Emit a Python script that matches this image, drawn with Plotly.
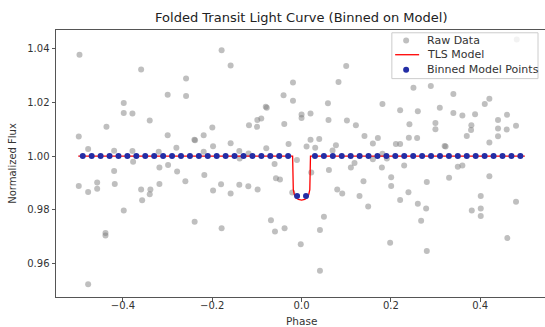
import plotly.graph_objects as go

# ---- data ----
raw_phase = [
    -0.4973, -0.3593, -0.2998, -0.3982, -0.3982, -0.3787, -0.3400, -0.4369, -0.4989, -0.2998,
    -0.4779, -0.4197, -0.3787, -0.3199, -0.2803, -0.1790, -0.1588, -0.2586, -0.2586, -0.0403,
    -0.0192, -0.0801, -0.0779, -0.0902, -0.0991, -0.1177, -0.0998, -0.0387, -0.1998, -0.2192,
    -0.2400, -0.2385, -0.1588, -0.1982, -0.0291, -0.2192, -0.1394, -0.1186, -0.0790, 0.0000,
    0.0000, 0.1000, -0.0192, 0.0828, 0.2506, 0.0591, 0.1812, 0.0201, 0.2208, 0.2604,
    0.0604, 0.1016, 0.1217, 0.2416, 0.1409, 0.1709, 0.2403, 0.0112, 0.0201, 0.0396,
    0.0770, 0.0694, 0.0306, 0.1597, 0.2112, 0.2208, 0.1812, 0.4819, 0.2895, 0.3400,
    0.4206, 0.4103, 0.3096, 0.3400, 0.3602, 0.3886, 0.4602, 0.4400, 0.2998, 0.3803,
    0.4400, 0.4803, 0.2998, 0.4595, 0.3796, 0.3700, 0.4400, 0.2588, 0.3204, 0.3226,
    0.4206, -0.3772, -0.4197, -0.3183, -0.2989, -0.2787, -0.4989, -0.4779, -0.4577, -0.4577,
    -0.4183, -0.3593, -0.3385, -0.3400, -0.3570, -0.3183, -0.3982, -0.4391, -0.4391, -0.4779,
    -0.1387, -0.2177, -0.2602, -0.1803, -0.1982, -0.1588, -0.1394, -0.1192, -0.0984, -0.0604,
    -0.0573, -0.0483, -0.0208, -0.0103, -0.2394, -0.1790, -0.0685, -0.0595, -0.0380, -0.0018,
    0.0217, 0.0613, 0.1105, 0.1186, 0.1597, 0.1799, 0.1911, 0.2298, 0.2007, 0.2007,
    0.1387, 0.0799, 0.0911, 0.1298, 0.2394, 0.2208, 0.2604, 0.1492, 0.0501, 0.0412,
    0.1984, 0.0412, 0.2678, 0.3499, 0.3602, 0.2805, 0.3304, 0.4206, 0.2790, 0.4013,
    0.3812, 0.4013, 0.4013, 0.4803, 0.4609, 0.2805,
]
raw_flux = [
    1.0378, 1.0323, 1.0229, 1.0198, 1.0161, 1.0159, 1.0133, 1.0109, 1.0073, 1.0078,
    1.0026, 1.0020, 1.0019, 1.0016, 1.0031, 1.0395, 1.0338, 1.0289, 1.0224, 1.0227,
    1.0206, 1.0184, 1.0180, 1.0140, 1.0135, 1.0115, 1.0109, 1.0120, 1.0107, 1.0078,
    1.0061, 1.0059, 1.0048, 1.0037, 1.0045, 1.0016, 1.0019, 1.0010, 1.0029, 1.0155,
    1.0142, 1.0336, 1.0274, 1.0276, 1.0255, 1.0197, 1.0194, 1.0159, 1.0171, 1.0167,
    1.0135, 1.0133, 1.0115, 1.0119, 1.0075, 1.0067, 1.0068, 1.0036, 1.0061, 1.0064,
    1.0040, 1.0021, 1.0031, 1.0047, 1.0045, 1.0045, 1.0009, 1.0435, 1.0261, 1.0232,
    1.0214, 1.0194, 1.0180, 1.0161, 1.0151, 1.0156, 1.0154, 1.0135, 1.0123, 1.0115,
    1.0103, 1.0113, 1.0100, 1.0099, 1.0097, 1.0075, 1.0074, 1.0067, 1.0038, 1.0036,
    1.0051, 0.9979, 0.9944, 0.9957, 0.9967, 0.9942, 0.9888, 0.9866, 0.9901, 0.9878,
    0.9896, 0.9875, 0.9875, 0.9858, 0.9835, 0.9896, 0.9797, 0.9713, 0.9704, 0.9522,
    0.9991, 0.9929, 0.9906, 0.9895, 0.9872, 0.9860, 0.9893, 0.9887, 0.9875, 0.9970,
    0.9917, 0.9913, 0.9864, 0.9985, 0.9755, 0.9731, 0.9761, 0.9719, 0.9731, 0.9671,
    0.9939, 0.9948, 0.9957, 0.9974, 0.9988, 0.9957, 0.9991, 0.9965, 0.9921, 0.9888,
    0.9906, 0.9875, 0.9860, 0.9851, 0.9865, 0.9836, 0.9822, 0.9812, 0.9774, 0.9724,
    0.9677, 0.9572, 0.9759, 0.9960, 0.9965, 0.9903, 0.9919, 0.9925, 0.9804, 0.9851,
    0.9797, 0.9804, 0.9776, 0.9830, 0.9694, 0.9646,
]

model_phase = [-0.50, -0.020, -0.0185, -0.016, -0.012, -0.007, 0.0, 0.007, 0.012, 0.016, 0.0185, 0.020, 0.50]
model_flux = [1.000, 1.000, 0.9875, 0.9856, 0.9843, 0.9838, 0.9836, 0.9838, 0.9843, 0.9856, 0.9875, 1.000, 1.000]

bin_phase = [
    -0.49, -0.47, -0.45, -0.43, -0.41, -0.39, -0.37, -0.35, -0.33, -0.31,
    -0.29, -0.27, -0.25, -0.23, -0.21, -0.19, -0.17, -0.15, -0.13, -0.11,
    -0.09, -0.07, -0.05, -0.03, -0.01, 0.01, 0.03, 0.05, 0.07, 0.09,
    0.11, 0.13, 0.15, 0.17, 0.19, 0.21, 0.23, 0.25, 0.27, 0.29,
    0.31, 0.33, 0.35, 0.37, 0.39, 0.41, 0.43, 0.45, 0.47, 0.49,
]
bin_flux = [1.0] * 24 + [0.9851, 0.9851] + [1.0] * 24

x_ticks = [-0.4, -0.2, 0.0, 0.2, 0.4]
x_labels = ["\u22120.4", "\u22120.2", "0.0", "0.2", "0.4"]
y_ticks = [0.96, 0.98, 1.00, 1.02, 1.04]
y_labels = ["0.96", "0.98", "1.00", "1.02", "1.04"]

legend_labels = ["Raw Data", "TLS Model", "Binned Model Points"]

FONT = "DejaVu Sans"
W, H = 545, 327
ML, MR, MT, MB = 55.5, 0, 29.5, 29.6
PW, PH = W - ML - MR, H - MT - MB

RAW_COLOR = "rgba(128,128,128,0.5)"
MODEL_COLOR = "red"
BIN_COLOR = "rgb(35,45,165)"


def px(x):
    return (x - ML) / PW


def py(y):
    return 1 - (y - MT) / PH


fig = go.Figure()
fig.add_trace(go.Scatter(
    x=raw_phase, y=raw_flux, mode="markers", name=legend_labels[0],
    marker=dict(size=6, color=RAW_COLOR, line=dict(width=0)),
))
fig.add_trace(go.Scatter(
    x=model_phase, y=model_flux, mode="lines", name=legend_labels[1],
    line=dict(color=MODEL_COLOR, width=1.3),
))
fig.add_trace(go.Scatter(
    x=bin_phase, y=bin_flux, mode="markers", name=legend_labels[2],
    marker=dict(size=6, color=BIN_COLOR, line=dict(width=0)),
))

# ---- hand-built legend box (matplotlib-like compact layout) ----
shapes = [
    dict(type="rect", xref="paper", yref="paper",
         x0=px(391.7), x1=px(538), y0=py(78.3), y1=py(32.3),
         line=dict(color="#cccccc", width=1), fillcolor="rgba(255,255,255,0.8)", layer="above"),
    dict(type="circle", xref="paper", yref="paper",
         x0=px(403), x1=px(409), y0=py(43), y1=py(37),
         line=dict(width=0), fillcolor=RAW_COLOR, layer="above"),
    dict(type="line", xref="paper", yref="paper",
         x0=px(395), x1=px(419), y0=py(54.3), y1=py(54.3),
         line=dict(color=MODEL_COLOR, width=1.3), layer="above"),
    dict(type="circle", xref="paper", yref="paper",
         x0=px(403), x1=px(409), y0=py(72.3), y1=py(66.3),
         line=dict(width=0), fillcolor=BIN_COLOR, layer="above"),
]
annotations = []
for label, yy in zip(legend_labels, [40, 54.3, 69.3]):
    annotations.append(dict(
        text=label, xref="paper", yref="paper", x=px(425), y=py(yy),
        xanchor="left", yanchor="middle", showarrow=False,
        font=dict(family=FONT, size=11, color="#333"),
    ))
# axis titles
annotations.append(dict(
    text="Phase", xref="paper", yref="paper", x=px(301.3), y=py(321.5),
    xanchor="center", yanchor="middle", showarrow=False,
    font=dict(family=FONT, size=10.5, color="#333"),
))
annotations.append(dict(
    text="Normalized Flux", xref="paper", yref="paper", x=px(11.7), y=py(163.5),
    xanchor="center", yanchor="middle", showarrow=False, textangle=-90,
    font=dict(family=FONT, size=10, color="#333"),
))

fig.update_layout(
    width=W, height=H,
    margin=dict(l=ML, r=MR, t=MT, b=MB),
    paper_bgcolor="white", plot_bgcolor="white",
    font=dict(family=FONT, size=10, color="#333"),
    title=dict(
        text="Folded Transit Light Curve (Binned on Model)",
        font=dict(family=FONT, size=13, color="#222"),
        x=301.3 / W, xref="container", xanchor="center",
        y=1 - 17.4 / H, yref="container", yanchor="middle",
    ),
    showlegend=False,
    shapes=shapes,
    annotations=annotations,
)
fig.update_xaxes(
    range=[-0.5499, 0.5452], tickvals=x_ticks, ticktext=x_labels,
    showgrid=False, zeroline=False, showline=True, linecolor="#555", linewidth=1,
    mirror=True, ticks="outside", ticklen=3.5, tickcolor="#555",
    tickfont=dict(family=FONT, size=10, color="#333"),
    ticklabelstandoff=-5,
    automargin=False,
)
fig.update_yaxes(
    range=[0.94743, 1.04703], tickvals=y_ticks, ticktext=y_labels,
    showgrid=False, zeroline=False, showline=True, linecolor="#555", linewidth=1,
    mirror=False, ticks="outside", ticklen=3.5, tickcolor="#555",
    tickfont=dict(family=FONT, size=10, color="#333"),
    automargin=False,
)

fig.write_html(
    "out.html",
    config={"displayModeBar": False},
    post_script="document.body.style.margin='0';document.body.style.padding='0';",
)
